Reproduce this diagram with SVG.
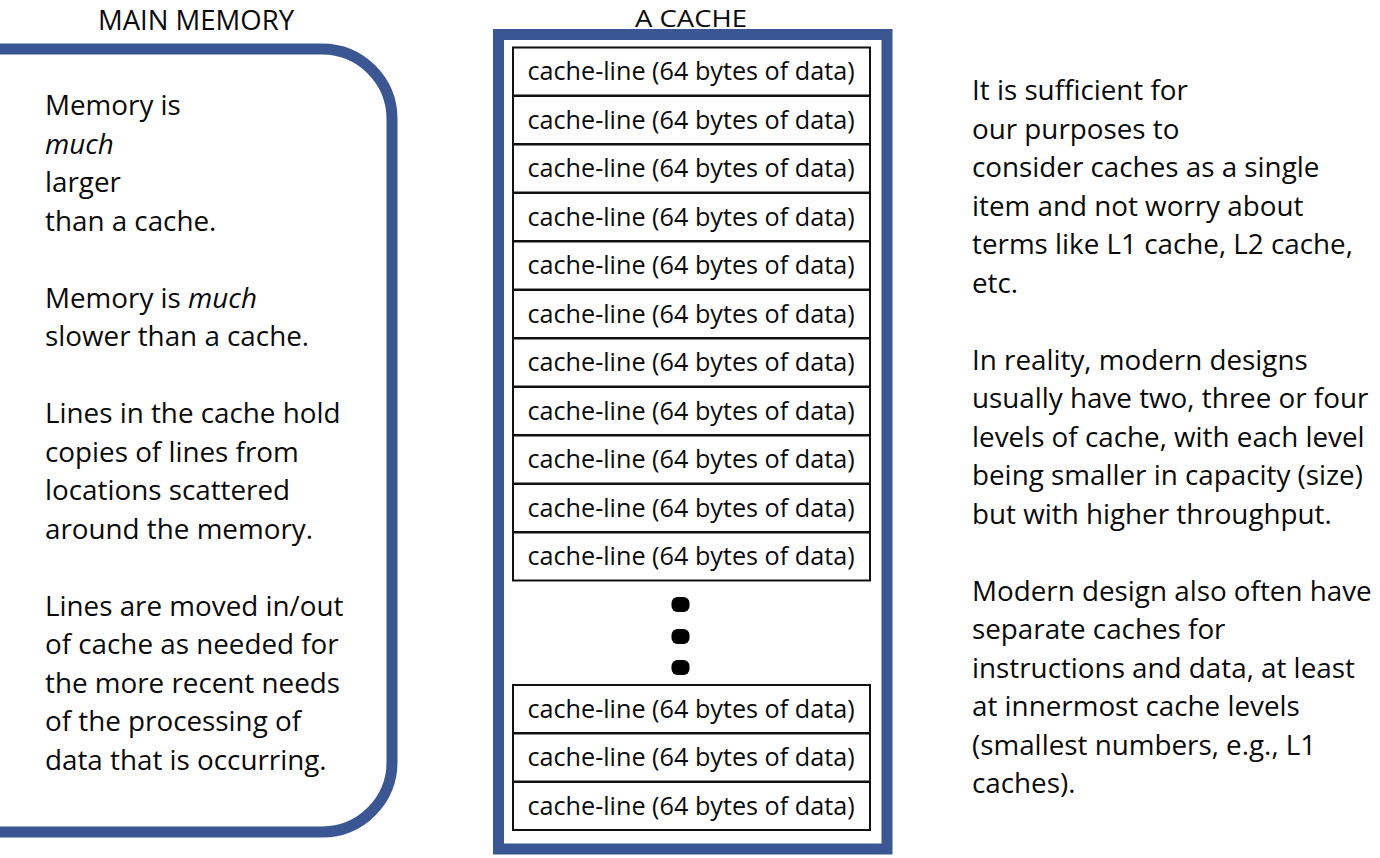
<svg xmlns="http://www.w3.org/2000/svg" width="1380" height="858" viewBox="0 0 1380 858">
<style>
text{font-family:"Open Sans",Lato,sans-serif;fill:#0a0a0a;}
.t{font-size:27.8px;}
.h{font-size:27.5px;text-anchor:middle;}
.c{font-size:25.2px;text-anchor:middle;}
.cl{fill:#fff;stroke:#111;stroke-width:2;}
.blue{fill:none;stroke:#3A5794;stroke-width:11;}
.dot{fill:#000;}
</style>
<rect width="1380" height="858" fill="#fff"/>
<g id="main-memory">
<text class="h" x="196" y="30">MAIN MEMORY</text>
<path class="blue" d="M0,49 H322 A70,70 0 0 1 392,119 V762 A70,70 0 0 1 322,832 H0"/>
<text class="t" x="45" y="115">Memory is</text>
<text class="t" x="45" y="153.5" font-style="italic">much</text>
<text class="t" x="45" y="192">larger</text>
<text class="t" x="45" y="230.5">than a cache.</text>
<text class="t" x="45" y="307.5">Memory is <tspan font-style="italic">much</tspan></text>
<text class="t" x="45" y="346">slower than a cache.</text>
<text class="t" x="45" y="423">Lines in the cache hold</text>
<text class="t" x="45" y="461.5">copies of lines from</text>
<text class="t" x="45" y="500">locations scattered</text>
<text class="t" x="45" y="538.5">around the memory.</text>
<text class="t" x="45" y="615.5">Lines are moved in/out</text>
<text class="t" x="45" y="654">of cache as needed for</text>
<text class="t" x="45" y="692.5">the more recent needs</text>
<text class="t" x="45" y="731">of the processing of</text>
<text class="t" x="45" y="769.5">data that is occurring.</text>
</g>
<g id="cache">
<text class="h" x="691" y="26.5" style="font-size:24.5px" textLength="112" lengthAdjust="spacingAndGlyphs">A CACHE</text>
<rect class="blue" x="498.5" y="34.5" width="388.5" height="814.5"/>
<g id="lines">
<rect class="cl" x="513" y="47.5" width="357" height="48"/><text class="c" x="691" y="80">cache-line (64 bytes of data)</text>
<rect class="cl" x="513" y="96" width="357" height="48"/><text class="c" x="691" y="128.5">cache-line (64 bytes of data)</text>
<rect class="cl" x="513" y="144.5" width="357" height="48"/><text class="c" x="691" y="177">cache-line (64 bytes of data)</text>
<rect class="cl" x="513" y="193" width="357" height="48"/><text class="c" x="691" y="225.5">cache-line (64 bytes of data)</text>
<rect class="cl" x="513" y="241.5" width="357" height="48"/><text class="c" x="691" y="274">cache-line (64 bytes of data)</text>
<rect class="cl" x="513" y="290" width="357" height="48"/><text class="c" x="691" y="322.5">cache-line (64 bytes of data)</text>
<rect class="cl" x="513" y="338.5" width="357" height="48"/><text class="c" x="691" y="371">cache-line (64 bytes of data)</text>
<rect class="cl" x="513" y="387" width="357" height="48"/><text class="c" x="691" y="419.5">cache-line (64 bytes of data)</text>
<rect class="cl" x="513" y="435.5" width="357" height="48"/><text class="c" x="691" y="468">cache-line (64 bytes of data)</text>
<rect class="cl" x="513" y="484" width="357" height="48"/><text class="c" x="691" y="516.5">cache-line (64 bytes of data)</text>
<rect class="cl" x="513" y="532.5" width="357" height="48"/><text class="c" x="691" y="565">cache-line (64 bytes of data)</text>
<rect class="dot" x="671.5" y="597" width="18" height="15" rx="6"/>
<rect class="dot" x="671.5" y="629" width="18" height="15" rx="6"/>
<rect class="dot" x="671.5" y="660" width="18" height="15" rx="6"/>
<rect class="cl" x="513" y="685" width="357" height="48"/><text class="c" x="691" y="717.5">cache-line (64 bytes of data)</text>
<rect class="cl" x="513" y="733.5" width="357" height="48"/><text class="c" x="691" y="766">cache-line (64 bytes of data)</text>
<rect class="cl" x="513" y="782" width="357" height="48"/><text class="c" x="691" y="814.5">cache-line (64 bytes of data)</text>
</g>
</g>
<g id="notes">
<text class="t" x="972" y="100">It is sufficient for</text>
<text class="t" x="972" y="138.5">our purposes to</text>
<text class="t" x="972" y="177">consider caches as a single</text>
<text class="t" x="972" y="215.5">item and not worry about</text>
<text class="t" x="972" y="254">terms like L1 cache, L2 cache,</text>
<text class="t" x="972" y="292.5">etc.</text>
<text class="t" x="972" y="369.5">In reality, modern designs</text>
<text class="t" x="972" y="408">usually have two, three or four</text>
<text class="t" x="972" y="446.5">levels of cache, with each level</text>
<text class="t" x="972" y="485">being smaller in capacity (size)</text>
<text class="t" x="972" y="523.5">but with higher throughput.</text>
<text class="t" x="972" y="600.5">Modern design also often have</text>
<text class="t" x="972" y="639">separate caches for</text>
<text class="t" x="972" y="677.5">instructions and data, at least</text>
<text class="t" x="972" y="716">at innermost cache levels</text>
<text class="t" x="972" y="754.5">(smallest numbers, e.g., L1</text>
<text class="t" x="972" y="793">caches).</text>
</g>
</svg>
